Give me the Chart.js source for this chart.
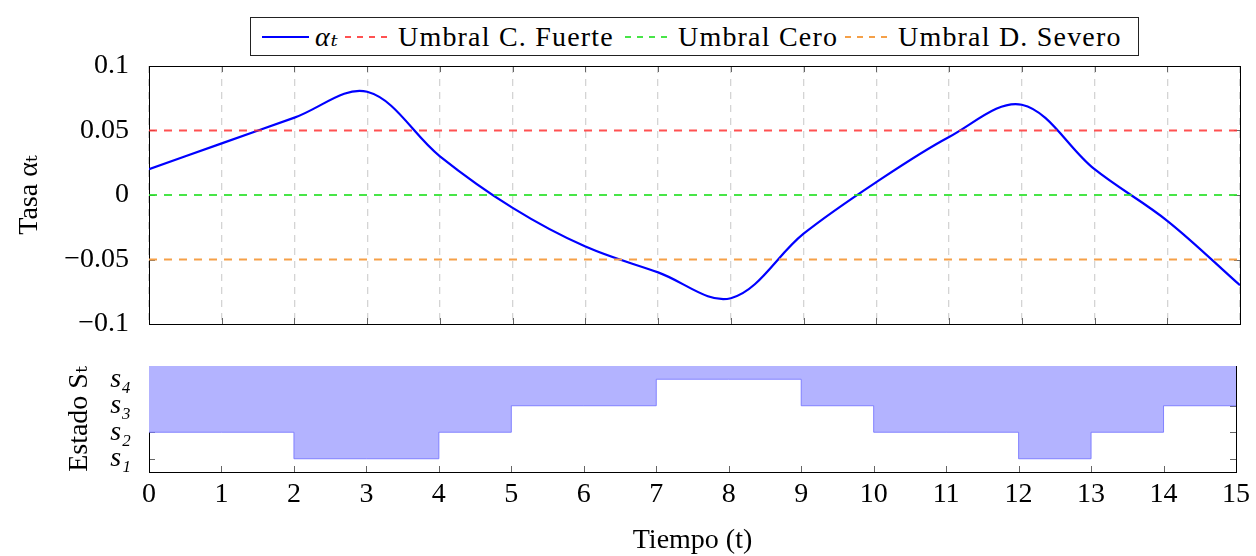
<!DOCTYPE html>
<html lang="es">
<head>
<meta charset="utf-8">
<title>Tasa y estado</title>
<script src="https://cdn.jsdelivr.net/npm/chart.js@4.4.1/dist/chart.umd.min.js"></script>
<style>
  html, body { margin: 0; padding: 0; background: #fff; }
  #wrap { position: relative; width: 1256px; height: 556px; overflow: hidden; }
  #wrap canvas { position: absolute; left: 0; top: 0; }
  #legend {
    position: absolute; left: 250px; top: 17px; width: 889px; height: 39px;
    border: 1px solid #222; box-sizing: border-box; background: #fff;
    font-family: 'Liberation Serif', 'DejaVu Serif', serif; font-size: 28px; color: #000;
  }
  #legend .item { position: absolute; top: 0; height: 37px; display: flex; align-items: center; white-space: nowrap; }
  #legend .txt { letter-spacing: 1.2px; }
  #legend svg { margin-right: 6px; }
</style>
</head>
<body>
<div id="wrap">
  <canvas id="top" width="1256" height="556"></canvas>
  <canvas id="bottom" width="1256" height="556"></canvas>
  <div id="legend"></div>
</div>
<script>
// serie temporal de la tasa y estado discreto
const tiempo = [0, 1, 2, 3, 4, 5, 6, 7, 8, 9, 10, 11, 12, 13, 14, 15];
const alpha = [0.02, 0.04, 0.06, 0.08, 0.03, -0.01, -0.04, -0.06, -0.08, -0.03, 0.01, 0.045, 0.07, 0.02, -0.02, -0.07];
const estado = [2, 2, 1, 1, 2, 3, 3, 4, 4, 3, 2, 2, 1, 2, 3, 3];

const umbrales = [0.05, 0, -0.05];
const umbralNombres = ['Umbral C. Fuerte', 'Umbral Cero', 'Umbral D. Severo'];
const umbralColores = ['rgba(255, 50, 50, 0.85)', 'rgba(40, 225, 40, 0.85)', '#f5a048'];

const yTicks = [-0.1, -0.05, 0, 0.05, 0.1];
const estadoTicks = [1, 2, 3, 4];
const estadoLabels = ['s₁', 's₂', 's₃', 's₄'];

const FONT = { family: "'Liberation Serif', 'DejaVu Serif', serif", size: 28 };
const LINE_COLOR = '#0000ff';

const fmt = (v) => {
  if (v === 0) return '0';
  const s = String(Math.abs(v));
  return v < 0 ? '\u2212' + s : s;
};

// marco y marcas interiores estilo pgfplots, dibujados bajo los datos
const axisFrame = {
  id: 'axisFrame',
  beforeDatasetsDraw(chart, args, opts) {
    const { ctx, chartArea: a, scales } = chart;
    ctx.save();
    ctx.strokeStyle = '#666';
    ctx.lineWidth = 1;
    ctx.beginPath();
    scales.x.ticks.forEach((t) => {
      const x = Math.round(scales.x.getPixelForValue(t.value)) + 0.5;
      ctx.moveTo(x, a.bottom); ctx.lineTo(x, a.bottom - 6);
      if (opts.topTicks) { ctx.moveTo(x, a.top); ctx.lineTo(x, a.top + 6); }
    });
    scales.y.ticks.forEach((t) => {
      const y = Math.round(scales.y.getPixelForValue(t.value)) + 0.5;
      ctx.moveTo(a.left, y); ctx.lineTo(a.left + 6, y);
      ctx.moveTo(a.right, y); ctx.lineTo(a.right - 6, y);
    });
    ctx.stroke();
    ctx.strokeStyle = '#000';
    ctx.strokeRect(Math.round(a.left) + 0.5, Math.round(a.top) + 0.5,
      Math.round(a.right - a.left), Math.round(a.bottom - a.top));
    ctx.restore();
  },
};

const thresholdSets = umbrales.map((u, i) => ({
  label: umbralNombres[i],
  data: tiempo.map((t) => ({ x: t, y: u })),
  borderColor: umbralColores[i],
  borderWidth: 1.8,
  borderDash: [8, 7],
  pointRadius: 0,
  fill: false,
}));

new Chart(document.getElementById('top'), {
  type: 'line',
  data: {
    datasets: [
      ...thresholdSets,
      {
        label: 'αₜ',
        data: tiempo.map((t, i) => ({ x: t, y: alpha[i] })),
        borderColor: LINE_COLOR,
        borderWidth: 2.2,
        tension: 0.35,
        pointRadius: 0,
        fill: false,
      },
    ],
  },
  options: {
    responsive: false,
    animation: false,
    layout: { padding: { left: 0, top: 66, right: 16, bottom: 232 } },
    plugins: { legend: { display: false }, tooltip: { enabled: false }, axisFrame: { topTicks: true } },
    scales: {
      x: {
        type: 'linear', min: 0, max: 15,
        ticks: { stepSize: 1, display: false },
        grid: { color: '#d4d4d4', lineWidth: 1.3, drawTicks: false },
        border: { display: false, dash: [7, 6] },
        afterFit: (s) => { s.height = 0; },
      },
      y: {
        min: -0.1, max: 0.1,
        afterBuildTicks: (s) => { s.ticks = yTicks.map((v) => ({ value: v })); },
        ticks: { font: FONT, color: '#000', padding: 12, autoSkip: false, callback: (v) => fmt(v) },
        grid: { display: false },
        border: { display: false },
        title: { display: true, text: 'Tasa αₜ', font: FONT, color: '#000', padding: { top: 13, bottom: 0 } },
        afterFit: (s) => { s.width = 149; },
      },
    },
  },
  plugins: [axisFrame],
});

new Chart(document.getElementById('bottom'), {
  type: 'line',
  data: {
    datasets: [{
      label: 'Sₜ',
      data: tiempo.map((t, i) => ({ x: t, y: estado[i] })),
      stepped: 'before',
      borderColor: 'rgba(110, 110, 255, 0.8)',
      borderWidth: 1,
      backgroundColor: '#b3b3ff',
      fill: 'end',
      pointRadius: 0,
    }],
  },
  options: {
    responsive: false,
    animation: false,
    layout: { padding: { left: 0, top: 366, right: 16, bottom: 0 } },
    plugins: { legend: { display: false }, tooltip: { enabled: false }, axisFrame: { topTicks: false } },
    scales: {
      x: {
        type: 'linear', min: 0, max: 15,
        ticks: { stepSize: 1, font: FONT, color: '#000', padding: 6, autoSkip: false },
        grid: { display: false, drawTicks: false },
        border: { display: false },
        title: { display: true, text: 'Tiempo (t)', font: { ...FONT, lineHeight: 1.1 }, color: '#000', padding: { top: 0, bottom: 0 } },
        afterFit: (s) => { s.height = 84; },
      },
      y: {
        min: 0.5, max: 4.5,
        afterBuildTicks: (s) => { s.ticks = estadoTicks.map((v) => ({ value: v })); },
        ticks: {
          font: { ...FONT, style: 'italic' }, color: '#000', padding: 10, autoSkip: false,
          callback: (v) => estadoLabels[estadoTicks.indexOf(v)],
        },
        grid: { display: false },
        border: { display: false },
        title: { display: true, text: 'Estado Sₜ', font: FONT, color: '#000', padding: { top: 63, bottom: 0 } },
        afterFit: (s) => { s.width = 149; },
      },
    },
  },
  plugins: [axisFrame],
});

// leyenda en HTML
const legendItems = [
  { text: 'αₜ', color: LINE_COLOR, dash: null, left: 11, italic: true },
  ...umbralNombres.map((n, i) => ({ text: n, color: umbralColores[i], dash: '6 6', left: [94, 374, 594][i] })),
];
const legend = document.getElementById('legend');
legendItems.forEach((it) => {
  const el = document.createElement('div');
  el.className = 'item';
  el.style.left = it.left + 'px';
  const dash = it.dash ? ` stroke-dasharray="${it.dash}"` : '';
  const w = it.dash ? 1.8 : 2.2;
  el.innerHTML = `<svg width="47" height="10"><line x1="0" y1="5" x2="47" y2="5" stroke="${it.color}" stroke-width="${w}"${dash}/></svg>`;
  const span = document.createElement('span');
  span.className = 'txt';
  span.textContent = it.text;
  if (it.italic) span.style.fontStyle = 'italic';
  el.appendChild(span);
  legend.appendChild(el);
});
</script>
</body>
</html>
